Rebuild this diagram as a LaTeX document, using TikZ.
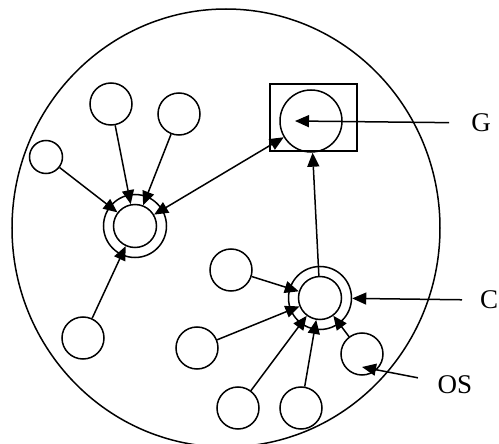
\documentclass[tikz,border=0pt]{standalone}
\usepackage{fontspec}
\setmainfont{Liberation Serif}
\usetikzlibrary{arrows.meta}

\tikzset{
  proc/.style={draw, circle, line width=1.5pt, minimum size=42pt, inner sep=0pt},
  hubin/.style={draw, circle, line width=1.5pt, minimum size=43pt, inner sep=0pt},
  hubout/.style={draw, circle, line width=1.5pt, minimum size=63pt, inner sep=0pt},
  lab/.style={inner sep=0pt, font=\fontsize{27}{30}\selectfont},
  arr/.style={line width=1.5pt, -{Triangle[length=14pt,width=12pt]}},
  darr/.style={line width=1.5pt, {Triangle[length=14pt,width=12pt]}-{Triangle[length=14pt,width=12pt]}}
}

\begin{document}
\begin{tikzpicture}[x=1pt, y=-1pt]
    \useasboundingbox (0,0) rectangle (499,444);
    \clip (0,0) rectangle (499,444);
    % outer region
    \draw[line width=1.5pt] (226,228) ellipse (214 and 219);
    % the two hubs
    \node[hubout] (hubAout) at (135,226) {};
    \node[hubin] (hubA) at (135,226) {};
    \node[hubout] (hubBout) at (320,298) {};
    \node[hubin] (hubB) at (320,298) {};
    % box with the G circle
    \draw[line width=1.5pt] (270,84) rectangle (357,151);
    \node[proc, minimum size=62pt] (gc) at (311,121) {};
    % small circles round hub A
    \node[proc, minimum size=33pt] (la) at (46,157) {};
    \foreach \n/\x/\y in {lb/111/104, lc/179/114, ld/83/338}
      \node[proc] (\n) at (\x,\y) {};
    % small circles round hub B
    \foreach \n/\x/\y in {ra/231/270, rb/197/348, rc/238/408, rd/301/408, os/362/354}
      \node[proc] (\n) at (\x,\y) {};
    % labels
    \node[lab] (Glab) at (481,123) {G};
    \node[lab, anchor=west] (Clab) at (480,300) {C};
    \node[lab] (OSlab) at (455,385) {OS};
    \coordinate (gtip) at (295,121);
    \coordinate (ostip) at (362,367);
    % connectors
    \foreach \n in {la,lb,lc,ld}
      \draw[arr] (\n) -- (hubA);
    \foreach \n in {ra,rb,rc,rd,os}
      \draw[arr] (\n) -- (hubB);
    \draw[darr] (hubA) -- (gc);
    \draw[arr] (hubB) -- (gc);
    \draw[arr, shorten <=22pt] (Glab) -- (gtip);
    \draw[arr, shorten <=18pt] (Clab.west) -- (hubBout);
    \draw[arr, shorten <=20pt] (OSlab) -- (ostip);
\end{tikzpicture}
\end{document}
